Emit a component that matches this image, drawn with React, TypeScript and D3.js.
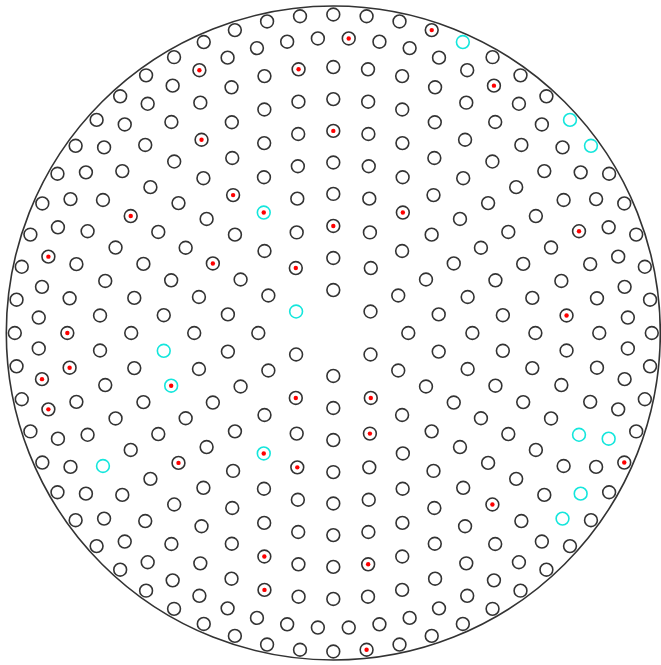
import React from "react";
import * as d3 from "d3";

// Layout of sites: concentric rings (radius in mm, number of sites, angular offset in degrees)
const waferRadius = 150;
const ringRadii = [19.7, 34.4, 49.1, 63.8, 78.2, 92.7, 107.3, 122.0, 135.3, 146.1];
const ringCounts = [6, 12, 18, 24, 30, 36, 42, 48, 60, 60];
const ringOffsets = [0, 0, 0, 0, 0, 0, 0, 0, 3, 0];

// Sites flagged red (ring number, index on ring)
const redSites: [number, number][] = [
  [9, 0], [10, 3], [9, 55], [8, 47], [9, 5], [7, 38], [6, 0], [5, 27], [7, 35],
  [4, 22], [3, 0], [4, 2], [8, 9], [9, 47], [4, 20], [2, 11], [7, 10], [8, 36],
  [8, 35], [9, 43], [9, 42], [5, 21], [6, 23], [4, 14], [2, 7], [4, 13], [7, 23],
  [8, 26], [2, 5], [3, 8], [7, 16], [10, 19], [7, 20], [10, 29],
];
// Sites flagged cyan
const cyanSites: [number, number][] = [
  [10, 4], [10, 8], [10, 9], [4, 22], [1, 5], [5, 22], [5, 21], [8, 32], [4, 14],
  [8, 15], [9, 18], [9, 20], [9, 21],
];

const W = 661;
const H = 665;
const CX = 333.3;
const CY = 333;
const RPX = 327;

export default function App() {
  const x = d3.scaleLinear().domain([-waferRadius, waferRadius]).range([CX - RPX, CX + RPX]);
  const y = d3.scaleLinear().domain([-waferRadius, waferRadius]).range([CY + RPX, CY - RPX]);
  const key = (r: number, i: number) => `${r}-${i}`;
  const redSet = new Set(redSites.map(([r, i]) => key(r, i)));
  const cyanSet = new Set(cyanSites.map(([r, i]) => key(r, i)));

  const sites: { px: number; py: number; red: boolean; cyan: boolean; k: string }[] = [];
  ringRadii.forEach((rad, ri) => {
    const n = ringCounts[ri];
    for (let i = 0; i < n; i++) {
      const a = ((ringOffsets[ri] + (360 / n) * i) * Math.PI) / 180;
      const ux = rad * Math.sin(a);
      const uy = rad * Math.cos(a);
      const k = key(ri + 1, i);
      sites.push({ px: x(ux), py: y(uy), red: redSet.has(k), cyan: cyanSet.has(k), k });
    }
  });

  return (
    <svg
      width={W}
      height={H}
      style={{ position: "absolute", left: 0, top: 0, background: "#fff" }}
    >
      <circle
        cx={x(0)}
        cy={y(0)}
        r={x(waferRadius) - x(0)}
        fill="none"
        stroke="#333"
        strokeWidth={1.6}
      />
      {sites.map((s) => (
        <g key={s.k}>
          <circle
            cx={s.px}
            cy={s.py}
            r={6.4}
            fill="none"
            stroke={s.cyan ? "#14e6dc" : "#333"}
            strokeWidth={1.6}
          />
          {s.red && <circle cx={s.px} cy={s.py} r={2.2} fill="#ff0000" />}
        </g>
      ))}
    </svg>
  );
}
